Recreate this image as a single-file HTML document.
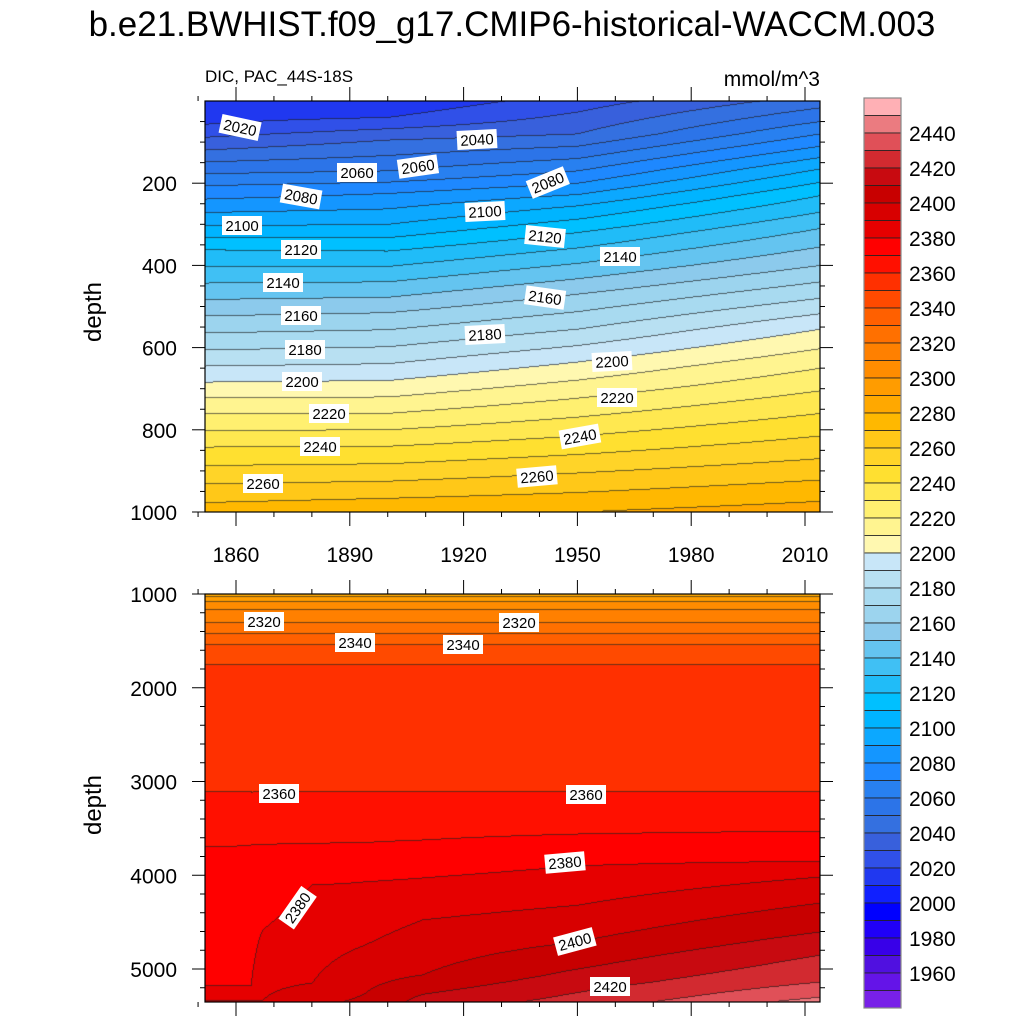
<!DOCTYPE html>
<html><head><meta charset="utf-8"><style>
body{margin:0;background:#fff;width:1024px;height:1024px;position:relative;overflow:hidden;font-family:"Liberation Sans",sans-serif}
canvas{position:absolute}
svg{position:absolute;left:0;top:0}
</style></head><body>
<canvas id="c1" width="615" height="411" style="left:205px;top:101px"></canvas>
<canvas id="c2" width="615" height="408" style="left:205px;top:594px"></canvas>
<svg id="s" width="1024" height="1024"></svg>
<script>
// ---- data ----
const colors = ["#FFB0B5","#EB7B80","#E05058","#D22A30","#C80A10","#C80000","#D80000","#E60000","#FF0000","#FF1000","#FF3000","#FF4A00","#FF6000","#FF7000","#FF8000","#FF8C00","#FF9C00","#FFA800","#FFB800","#FFC818","#FFD428","#FFE030","#FFE850","#FFF070","#FFF490","#FFF8B0","#C8E6F8","#B8E0F2","#A8DAF0","#9CD4EE","#8CCAEC","#64C4F0","#40C0F4","#20BCF8","#00C0FF","#00B4FF","#0CA8FF","#1496FF","#1E88FF","#2880F0","#2C74E8","#3470E0","#3860DC","#3050E8","#2038F0","#1020FF","#0000FF","#2000F8","#3800E8","#5010E0","#6414E8","#7820E8"];
const cbarLabels = [1960,1980,2000,2020,2040,2060,2080,2100,2120,2140,2160,2180,2200,2220,2240,2260,2280,2300,2320,2340,2360,2380,2400,2420,2440];
const xTicks = [1860,1890,1920,1950,1980,2010];
const yTicksTop = [200,400,600,800,1000];
const yTicksBot = [1000,2000,3000,4000,5000];
const upYears = [1850,1900,1950,2014];
const upDepths = [
 [0,58,120,200,304,362,443,523,606,684,761,842,932,1000],
 [0,40,95,170,225,300,365,440,515,598,680,760,840,925,1000],
 [0,80,140,200,255,320,395,470,555,635,723,815,905,1000],
 [0,50,110,165,230,310,400,480,555,650,760,870,1000]];
const upVals = [
 [2010,2020,2040,2068,2100,2120,2140,2160,2180,2200,2220,2240,2260,2275],
 [2012,2020,2040,2060,2080,2100,2120,2140,2160,2180,2200,2220,2240,2260,2278],
 [2025,2040,2060,2080,2100,2120,2140,2160,2180,2200,2220,2240,2260,2280],
 [2045,2060,2080,2100,2120,2140,2160,2180,2200,2220,2240,2260,2285]];
const dpYears = [1850,1864,1867,1880,1894,1909,1950,2014];
const dpTopD = [1000,1100,1300,1540,1750,3112];
const dpTopV = [2285,2305,2320,2340,2350,2360];
const dpDepths = [
 [3699,5192,5360],[3677,5171,5331,5360],[3670,4580,5331,5360],[3660,4104,5150,5360],
 [3650,4070,4744,5360],[3624,4029,4477,5064,5270,5360],[3560,3900,4320,4712,5000,5250,5360],
 [3528,3850,4019,4296,4605,4851,5139,5300,5360]];
const dpVals = [
 [2370,2380,2392],[2370,2380,2390,2391],[2370,2380,2390,2391],[2370,2380,2390,2398],
 [2370,2380,2390,2402],[2370,2380,2390,2400,2410,2414],[2370,2380,2390,2400,2410,2420,2424],
 [2370,2380,2390,2400,2410,2420,2430,2440,2445]];
const labelsTop = [[240,128,"2020",12],[477,140,"2040",-3],[357,173,"2060",0],[418,167,"2060",-8],[301,197,"2080",10],[548,183,"2080",-22],[242,226,"2100",0],[485,212,"2100",-3],[545,237,"2120",6],[301,250,"2120",0],[620,257,"2140",0],[283,283,"2140",0],[545,298,"2160",8],[301,316,"2160",0],[485,335,"2180",-3],[305,350,"2180",0],[612,362,"2200",-3],[302,382,"2200",0],[617,398,"2220",0],[329,414,"2220",0],[580,437,"2240",-10],[320,447,"2240",0],[537,477,"2260",-5],[263,484,"2260",0]];
const labelsBot = [[264,622,"2320",0],[355,643,"2340",0],[463,645,"2340",0],[519,623,"2320",0],[279,794,"2360",0],[586,795,"2360",0],[565,863,"2380",-5],[298,908,"2380",-55],[575,942,"2400",-15],[610,987,"2420",0]];

// ---- scales ----
const X0=205,X1=820;
const xs = y => 236 + (y-1860)*(805-236)/150;
const yearAt = px => 1860 + (px+X0-236)*150/(805-236);
const ysTop = d => 101 + d*0.411;
const ysBot = d => 594 + (d-1000)*0.09375;

function interp(ds,vs,d){
  if(d<=ds[0]) return vs[0];
  for(let i=1;i<ds.length;i++) if(d<=ds[i]) return vs[i-1]+(vs[i]-vs[i-1])*(d-ds[i-1])/(ds[i]-ds[i-1]);
  return vs[vs.length-1];
}
function field(years,profile,yr,d){
  if(yr<=years[0]) return profile(0,d);
  for(let i=1;i<years.length;i++) if(yr<=years[i]){const t=(yr-years[i-1])/(years[i]-years[i-1]);return profile(i-1,d)*(1-t)+profile(i,d)*t;}
  return profile(years.length-1,d);
}
const upProf=(i,d)=>interp(upDepths[i],upVals[i],d);
const dpProf=(i,d)=>interp(dpTopD.concat(dpDepths[i]),dpTopV.concat(dpVals[i]),d);
function idx(v){let k=Math.floor((v-1950)/10)+1;return Math.max(0,Math.min(51,k));}
function hex(c){return [parseInt(c.slice(1,3),16),parseInt(c.slice(3,5),16),parseInt(c.slice(5,7),16)];}
const rgb = colors.map(hex);
function draw(id,w,h,depthAt,years,prof){
  const cv=document.getElementById(id),ctx=cv.getContext('2d');
  const im=ctx.createImageData(w,h);const K=new Int16Array(w*h);
  for(let y=0;y<h;y++)for(let x=0;x<w;x++)K[y*w+x]=idx(field(years,prof,yearAt(x),depthAt(y)));
  for(let y=0;y<h;y++)for(let x=0;x<w;x++){
    const k=K[y*w+x];let c=rgb[51-k];const o=(y*w+x)*4;
    let edge=(x<w-1&&K[y*w+x+1]!==k)||(y<h-1&&K[(y+1)*w+x]!==k);
    if(edge)c=c.map(v=>v*0.35+20);
    im.data[o]=c[0];im.data[o+1]=c[1];im.data[o+2]=c[2];im.data[o+3]=255;
  }
  ctx.putImageData(im,0,0);
}
draw('c1',615,411,y=>y/0.411,upYears,upProf);
draw('c2',615,408,y=>1000+y/0.09375,dpYears,dpProf);

// ---- SVG overlay ----
const S=document.getElementById('s');const NS='http://www.w3.org/2000/svg';
function el(t,a,p){const e=document.createElementNS(NS,t);for(const k in a)e.setAttribute(k,a[k]);(p||S).appendChild(e);return e;}
function txt(x,y,s,size,anchor,name){const e=el('text',{x:x,y:y,'font-size':size,'text-anchor':anchor||'middle','font-family':'Liberation Sans, sans-serif',fill:'#000'});e.textContent=s;return e;}
txt(512,36,"b.e21.BWHIST.f09_g17.CMIP6-historical-WACCM.003",35,'middle','chart-title');
txt(205,82,"DIC, PAC_44S-18S",17,'start','variable-subtitle');
txt(820,86,"mmol/m^3",21,'end','units-label');
[[312,'top'],[805,'bottom']].forEach(([cy,n])=>{const t=txt(0,0,"depth",24,'middle','y-axis-title-'+n);t.setAttribute('transform','translate(101,'+cy+') rotate(-90)');});
function frame(top,bot,name){const r=el('rect',{x:X0,y:top,width:X1-X0,height:bot-top,fill:'none',stroke:'#000','stroke-width':1.2});}
frame(101,512,'top-panel-frame');frame(594,1002,'bottom-panel-frame');
function xaxis(yb,yt,showLabels){
  for(let yr=1850;yr<=2014;yr+=10){const x=xs(yr);const maj=xTicks.includes(yr);const L=maj?14:5;
    el('line',{x1:x,x2:x,y1:yb,y2:yb+L,stroke:'#000','stroke-width':1});
    el('line',{x1:x,x2:x,y1:yt,y2:yt-L,stroke:'#000','stroke-width':1});}
  if(showLabels)xTicks.forEach(yr=>txt(xs(yr),562,String(yr),21,'middle','x-tick-label'));
}
xaxis(512,101,true);xaxis(1002,594,false);
for(let d=50;d<=1000;d+=50){const y=ysTop(d);const L=(d%200===0)?13:5;el('line',{x1:X0-L,x2:X0,y1:y,y2:y,stroke:'#000'});el('line',{x1:X1,x2:X1+L,y1:y,y2:y,stroke:'#000'});}
yTicksTop.forEach(d=>txt(177,ysTop(d)+8,String(d),21,'end','y-tick-label-top'));
for(let d=1000;d<=5350;d+=200){const y=ysBot(d);const L=(d%1000===0)?13:5;el('line',{x1:X0-L,x2:X0,y1:y,y2:y,stroke:'#000'});el('line',{x1:X1,x2:X1+L,y1:y,y2:y,stroke:'#000'});}
yTicksBot.forEach(d=>txt(177,ysBot(d)+8,String(d),21,'end','y-tick-label-bottom'));
function clabel(a){const g=el('g',{transform:'translate('+a[0]+','+a[1]+') rotate('+a[3]+')'});
  
  el('rect',{x:-20,y:-10,width:40,height:19,fill:'#fff'},g);
  const t=el('text',{x:0,y:5,'font-size':15,'text-anchor':'middle','font-family':'Liberation Sans, sans-serif'},g);t.textContent=a[2];}
labelsTop.forEach(clabel);labelsBot.forEach(clabel);
// colorbar
const cb=el('g',{});
colors.forEach((c,i)=>{const r=el('rect',{x:864,y:98+i*17.5,width:37,height:17.5,fill:c,stroke:'#222','stroke-width':0.8},cb);});
el('rect',{x:864,y:98,width:37,height:910,fill:'none',stroke:'#888','stroke-width':1.2},cb);
cbarLabels.forEach(v=>txt(909,990.5-(v-1950)/10*17.5+8,String(v),21,'start','colorbar-label'));
</script>
</body></html>
